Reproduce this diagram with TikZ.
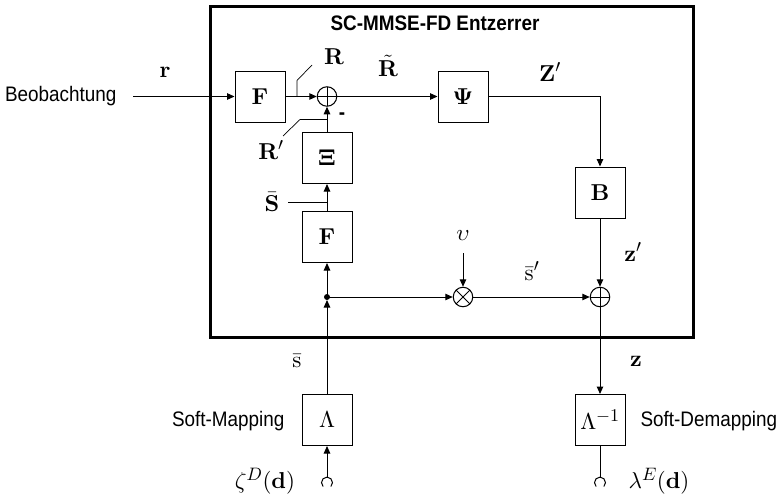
\RequirePackage{fix-cm}
\documentclass[tikz,border=0pt]{standalone}
\usepackage{amsmath}
\usepackage[no-math]{fontspec}
\newfontfamily\labfont{Liberation Sans}[FakeStretch=0.9]
\usetikzlibrary{arrows.meta}
\DeclareFontShape{OT1}{cmr}{bx}{n}{<-> cmbx10}{}
\DeclareFontShape{OT1}{cmr}{m}{n}{<-> cmr10}{}
\DeclareFontShape{OML}{cmm}{m}{it}{<-> cmmi10}{}
\DeclareFontShape{OMS}{cmsy}{m}{n}{<-> cmsy10}{}
\DeclareMathSizes{23}{23}{18}{14}

\begin{document}
\begin{tikzpicture}[x=1pt,y=-1pt,
  every node/.style={font=\fontsize{23}{27}\selectfont},
  blk/.style={draw, line width=1pt, minimum width=50pt, minimum height=51pt, inner sep=0pt},
  opc/.style={draw, circle, line width=1pt, minimum size=19.5pt, inner sep=0pt},
  plus/.style={path picture={\draw[line width=1pt] (path picture bounding box.north) -- (path picture bounding box.south) (path picture bounding box.west) -- (path picture bounding box.east);}},
  times/.style={path picture={\draw[line width=1pt] (path picture bounding box.north west) -- (path picture bounding box.south east) (path picture bounding box.south west) -- (path picture bounding box.north east);}},
  sig/.style={line width=1pt},
  arr/.style={sig, -{Triangle[length=7.5pt,width=6.5pt]}},
  lab/.style={font=\labfont\fontsize{21}{25}\selectfont},
  lead/.style={line width=0.7pt}]
\useasboundingbox (0,0) rectangle (780,498);

% frame
\draw[line width=3pt] (210,6) rectangle (693,337);
\node[lab, font=\labfont\bfseries\fontsize{21}{25}\selectfont] (title) at (435,23) {SC-MMSE-FD Entzerrer};

% blocks
\node[blk] (F1) at (260,96.5) {$\mathbf{F}$};
\node[opc, plus] (S1) at (327,96.5) {};
\node[blk] (Psi) at (463,96.5) {$\mathbf{\Psi}$};
\node[blk] (Xi) at (327,158) {$\mathbf{\Xi}$};
\node[blk] (F2) at (327,237) {$\mathbf{F}$};
\node[blk] (B) at (600,192.5) {$\mathbf{B}$};
\coordinate (J) at (327,297);
\node[opc, times] (M) at (463,297) {};
\node[opc, plus] (S2) at (600,297) {};
\node[blk] (L) at (327,420) {$\Lambda$};
\node[blk] (Li) at (600,420) {$\Lambda^{-1}$};

% input / terminals
\node[lab, anchor=east] (obs) at (120,96.5) {Beobachtung};
\coordinate (in) at (133,96.5);
\coordinate (t1) at (327,477);
\coordinate (t2) at (600,477);
\coordinate (ups) at (463,253);

% labels
\node (lr) at (165,72) {$\mathbf{r}$};
\node (lR) at (334,57) {$\mathbf{R}$};
\node (lRt) at (388,66) {$\tilde{\mathbf{R}}$};
\node (lZ) at (550,72) {$\mathbf{Z}'$};
\node (lRp) at (271,150) {$\mathbf{R}'$};
\node[lab, font=\labfont\bfseries\fontsize{21}{25}\selectfont] (minus) at (342,116) {-};
\node (lSb) at (272,202) {$\bar{\mathbf{S}}$};
\node (lu) at (463,236) {$\upsilon$};
\node (lsp) at (532,271) {$\bar{\mathrm{s}}'$};
\node (lzp) at (633,252) {$\mathbf{z}'$};
\node (ls) at (297,361) {$\bar{\mathrm{s}}$};
\node (lz) at (636,361) {$\mathbf{z}$};
\node (lzeta) at (265,481) {$\zeta^D(\mathbf{d})$};
\node (llam) at (659,481) {$\lambda^E(\mathbf{d})$};
\node[lab, anchor=east] (lmap) at (288,421) {Soft-Mapping};
\node[lab, anchor=west] (ldemap) at (637,421) {Soft-Demapping};

% connectors
\draw[arr] (in) -- (F1);
\draw[arr] (F1) -- (S1);
\draw[arr] (S1) -- (Psi);
\draw[arr] (Psi.east) -| (B.north);
\draw[arr] (B) -- (S2);
\draw[arr] (Xi) -- (S1);
\draw[arr] (F2) -- (Xi);
\draw[arr] (J) -- (F2);
\draw[arr, shorten >=3pt] (L) -- (J);
\fill (J) circle (3pt);
\draw[arr] (J) -- (M);
\draw[arr] (ups) -- (M);
\draw[arr] (M) -- (S2);
\draw[arr] (S2) -- (Li);
\draw[arr] (t1) -- (L);
\draw[sig] (Li) -- (t2);

% terminals arcs
\draw[sig] (t1) ++(-3.9,9.5) arc[start angle=135, end angle=405, radius=5.5];
\draw[sig] (t2) ++(-3.9,9.5) arc[start angle=135, end angle=405, radius=5.5];

% leaders
\draw[lead] (297,96.5) -- (297,80.5) -- (312,65);
\draw[lead] (283,136) -- (300,119.5) -- (327,119.5);
\draw[lead] (288,202) -- (327,202);
\end{tikzpicture}
\end{document}
